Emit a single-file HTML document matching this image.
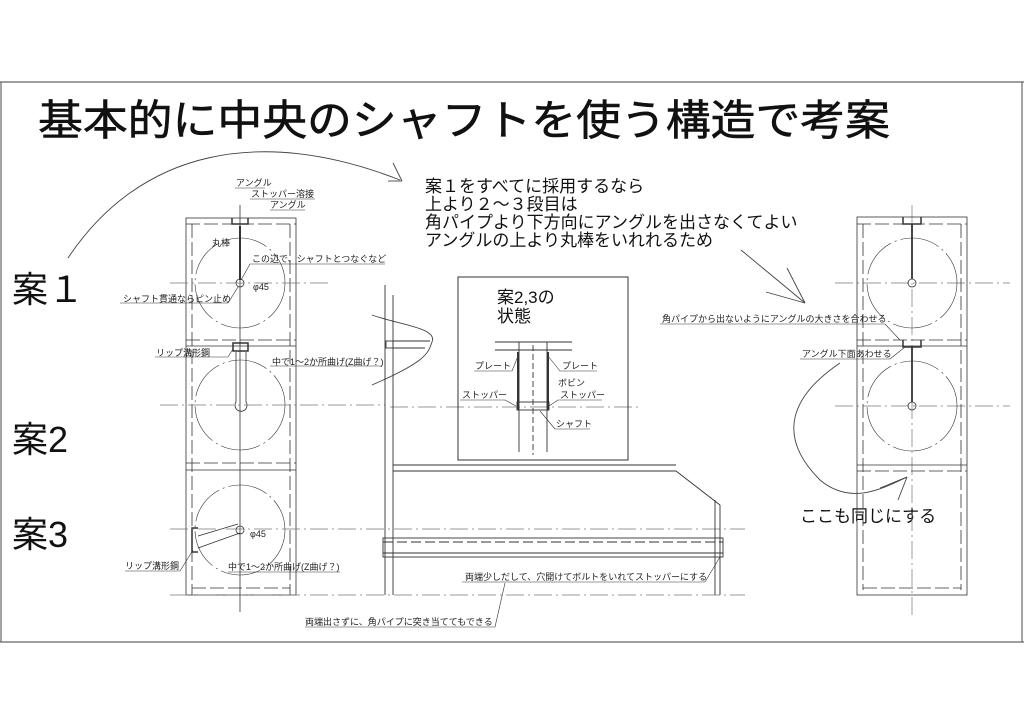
<!DOCTYPE html>
<html><head><meta charset="utf-8"><style>
html,body{margin:0;padding:0;background:#fff;}
svg{display:block;font-family:"Liberation Sans","Noto Sans CJK JP",sans-serif;}
.t{font-size:9px;fill:#222}
</style></head><body>
<svg width="1024" height="724" viewBox="0 0 1024 724" xmlns="http://www.w3.org/2000/svg">
<rect width="1024" height="724" fill="#fff"/>
<g stroke="#666" stroke-width="1.2" fill="none">
<line x1="0" y1="82" x2="1024" y2="82"/>
<line x1="0" y1="642" x2="1024" y2="642"/>
<line x1="1" y1="82" x2="1" y2="642"/>
<line x1="1022" y1="82" x2="1022" y2="642"/>
</g>
<text x="38" y="135" font-size="42" textLength="852" lengthAdjust="spacingAndGlyphs" fill="#111" stroke="#111" stroke-width="0.6">基本的に中央のシャフトを使う構造で考案</text>
<text x="12" y="302" font-size="36" fill="#111">案１</text>
<text x="12" y="452" font-size="36" fill="#111">案2</text>
<text x="12" y="547" font-size="36" fill="#111">案3</text>
<g font-size="17" fill="#111">
<text x="425" y="192">案１をすべてに採用するなら</text>
<text x="425" y="210">上より２～３段目は</text>
<text x="425" y="228">角パイプより下方向にアングルを出さなくてよい</text>
<text x="425" y="246">アングルの上より丸棒をいれれるため</text>
</g>
<text x="800" y="522" font-size="17" fill="#111">ここも同じにする</text>
<text x="497" y="303" font-size="17" fill="#111">案2,3の</text>
<text x="497" y="322" font-size="17" fill="#111">状態</text>

<g stroke="#444" stroke-width="0.9" fill="none">
<path d="M68,258 C140,150 260,125 400,180"/>
<line x1="388" y1="181" x2="402" y2="181"/><line x1="393" y1="163" x2="402" y2="181"/>
<path d="M372,315 C400,325 438,328 432,342 C428,354 425,362 372,385"/>
<line x1="741" y1="250" x2="805" y2="303"/><line x1="787" y1="268" x2="805" y2="303"/><line x1="766" y1="292" x2="805" y2="303"/>
<path d="M840,363 C800,390 770,430 820,480 C850,505 880,490 907,477"/>
<line x1="880" y1="488" x2="907" y2="477"/><line x1="898" y1="500" x2="907" y2="477"/>
</g>

<g stroke="#333" stroke-width="0.8" fill="none">
<rect x="186" y="218" width="110" height="377"/>
<line x1="192" y1="224" x2="192" y2="595" stroke-dasharray="14,4"/>
<line x1="290" y1="224" x2="290" y2="595" stroke-dasharray="14,4"/>
<line x1="186" y1="224" x2="296" y2="224" stroke-dasharray="14,4"/>
<line x1="186" y1="340" x2="296" y2="340" stroke-dasharray="14,4"/>
<line x1="186" y1="346" x2="296" y2="346"/>
<line x1="186" y1="463" x2="296" y2="463" stroke-dasharray="14,4"/>
<line x1="186" y1="470" x2="296" y2="470"/>
<line x1="192" y1="588" x2="290" y2="588" stroke-dasharray="14,4"/>
<line x1="240" y1="205" x2="240" y2="612"/>
<circle cx="240" cy="283" r="45" stroke-dasharray="40,4,2,4" stroke-width="0.6"/>
<circle cx="240" cy="405" r="45" stroke-dasharray="40,4,2,4" stroke-width="0.6"/>
<circle cx="240" cy="530" r="45" stroke-dasharray="40,4,2,4" stroke-width="0.6"/>
<circle cx="240" cy="283" r="4"/><circle cx="240" cy="530" r="4"/>
<line x1="240" y1="226" x2="240" y2="280" stroke-width="2"/>
<path d="M232,218 v6 h16 v-6" stroke-width="1.5"/>
<rect x="233" y="343" width="15" height="8" stroke-width="1.5"/>
<path d="M236,352 v50 a6,6 0 1,0 10,0 v-50"/>
<path d="M192,540 v-12 h6 M192,540 v12 h6" stroke-width="1.5"/>
<path d="M198,536 L238,524 M198,548 L240,533"/>
</g>
<g stroke="#777" stroke-width="0.7" fill="none" stroke-dasharray="18,4,2,4">
<line x1="170" y1="283" x2="330" y2="283"/>
<line x1="160" y1="405" x2="385" y2="405"/>
<line x1="170" y1="529" x2="745" y2="529"/>
<line x1="170" y1="595" x2="745" y2="595"/>
<line x1="390" y1="407" x2="640" y2="407"/>
<line x1="835" y1="283" x2="1010" y2="283"/>
<line x1="835" y1="406" x2="1010" y2="406"/>
<line x1="912" y1="205" x2="912" y2="615"/>
</g>
<g class="t" font-size="9">
<text x="236" y="186">アングル</text>
<text x="251" y="197">ストッパー溶接</text>
<text x="270" y="208">アングル</text>
<text x="212" y="246">丸棒</text>
<text x="252" y="262">この辺で、シャフトとつなぐなど</text>
<text x="253" y="290">φ45</text>
<text x="123" y="302">シャフト貫通ならピン止め</text>
<text x="156" y="356">リップ溝形鋼</text>
<text x="272" y="365">中で1～2か所曲げ(Z曲げ？)</text>
<text x="250" y="537">φ45</text>
<text x="125" y="569">リップ溝形鋼</text>
<text x="228" y="570">中で1～2か所曲げ(Z曲げ？)</text>
<text x="465" y="580">両端少しだして、穴開けてボルトをいれてストッパーにする</text>
<text x="305" y="625">両端出さずに、角パイプに突き当ててもできる</text>
<text x="662" y="322">角パイプから出ないようにアングルの大きさを合わせる</text>
<text x="802" y="357">アングル下面あわせる</text>
<text x="475" y="369">プレート</text>
<text x="562" y="369">プレート</text>
<text x="558" y="386">ボビン</text>
<text x="462" y="398">ストッパー</text>
<text x="560" y="398">ストッパー</text>
<text x="556" y="427">シャフト</text>
</g>
<g stroke="#333" stroke-width="0.6" fill="none">
<line x1="120" y1="303" x2="228" y2="303"/><line x1="228" y1="303" x2="238" y2="287"/>
<line x1="250" y1="264" x2="385" y2="264"/><line x1="250" y1="264" x2="241" y2="280"/>
<line x1="155" y1="357" x2="228" y2="357"/><line x1="228" y1="357" x2="233" y2="349"/>
<line x1="270" y1="366" x2="382" y2="366"/>
<line x1="125" y1="571" x2="180" y2="571"/><line x1="180" y1="571" x2="193" y2="550"/>
<line x1="228" y1="572" x2="340" y2="572"/>
<line x1="462" y1="582" x2="705" y2="582"/><line x1="705" y1="582" x2="720" y2="557"/>
<line x1="305" y1="627" x2="495" y2="627"/><line x1="495" y1="627" x2="505" y2="583"/>
<line x1="660" y1="324" x2="885" y2="324"/><line x1="885" y1="324" x2="900" y2="340"/>
<line x1="800" y1="359" x2="890" y2="359"/><line x1="890" y1="359" x2="905" y2="347"/>
<line x1="235" y1="188" x2="265" y2="188"/><line x1="250" y1="199" x2="315" y2="199"/><line x1="270" y1="210" x2="305" y2="210"/>
<line x1="474" y1="371" x2="512" y2="371"/><line x1="512" y1="371" x2="518" y2="356"/>
<line x1="560" y1="371" x2="597" y2="371"/><line x1="560" y1="371" x2="548" y2="356"/>
<line x1="460" y1="400" x2="505" y2="400"/><line x1="505" y1="400" x2="516" y2="406"/>
<line x1="558" y1="400" x2="602" y2="400"/><line x1="558" y1="400" x2="549" y2="406"/>
<line x1="555" y1="429" x2="590" y2="429"/><line x1="555" y1="429" x2="540" y2="411"/>
</g>

<g stroke="#333" stroke-width="0.9" fill="none">
<line x1="385" y1="285" x2="385" y2="595"/>
<line x1="393" y1="295" x2="393" y2="595"/>
<rect x="386" y="341" width="7" height="7"/>
<line x1="393" y1="341" x2="430" y2="341"/><line x1="393" y1="348" x2="425" y2="348"/>
<rect x="458" y="277" width="170" height="183" stroke-width="1"/>
<line x1="393" y1="465" x2="676" y2="465"/>
<line x1="393" y1="471" x2="676" y2="471"/>
<line x1="676" y1="471" x2="720" y2="505"/>
<line x1="715" y1="500" x2="715" y2="595"/><line x1="720" y1="505" x2="720" y2="595"/>
<rect x="383" y="538" width="340" height="19"/>
<line x1="383" y1="542" x2="723" y2="542" stroke-dasharray="10,4"/>
<line x1="383" y1="553" x2="723" y2="553"/>
<line x1="495" y1="342" x2="572" y2="342"/>
<line x1="495" y1="350" x2="572" y2="350"/>
<line x1="519" y1="342" x2="519" y2="452"/><line x1="547" y1="342" x2="547" y2="452"/>
<line x1="518" y1="352" x2="518" y2="410" stroke-width="2"/><line x1="548" y1="352" x2="548" y2="410" stroke-width="2"/>
<rect x="517" y="402" width="32" height="8"/>
<line x1="533" y1="345" x2="533" y2="455" stroke-dasharray="6,3"/>
</g>

<g stroke="#333" stroke-width="0.8" fill="none">
<rect x="857" y="217" width="110" height="378"/>
<line x1="863" y1="224" x2="863" y2="590" stroke-dasharray="14,4"/>
<line x1="961" y1="224" x2="961" y2="590" stroke-dasharray="14,4"/>
<line x1="857" y1="224" x2="967" y2="224" stroke-dasharray="14,4"/>
<line x1="857" y1="340" x2="967" y2="340" stroke-dasharray="14,4"/>
<line x1="857" y1="346" x2="967" y2="346"/>
<line x1="857" y1="465" x2="967" y2="465"/>
<line x1="857" y1="471" x2="967" y2="471" stroke-dasharray="14,4"/>
<line x1="863" y1="588" x2="961" y2="588" stroke-dasharray="14,4"/>
<circle cx="912" cy="283" r="45" stroke-dasharray="40,4,2,4" stroke-width="0.6"/>
<circle cx="912" cy="406" r="45" stroke-dasharray="40,4,2,4" stroke-width="0.6"/>
<circle cx="912" cy="283" r="4"/><circle cx="912" cy="406" r="4"/>
<path d="M903,217 v7 h18 v-7" stroke-width="1.5"/>
<path d="M903,340 v7 h18 v-7" stroke-width="1.5"/>
<line x1="912" y1="224" x2="912" y2="279" stroke-width="1.8"/>
<line x1="912" y1="347" x2="912" y2="402" stroke-width="1.8"/>
</g>
</svg>
</body></html>
